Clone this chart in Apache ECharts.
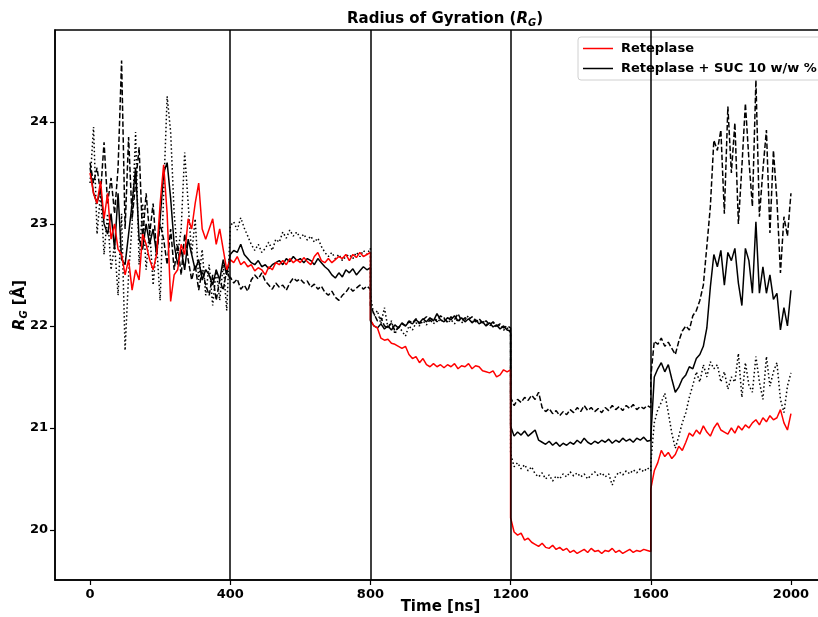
<!DOCTYPE html>
<html>
<head>
<meta charset="utf-8">
<script src="https://cdn.jsdelivr.net/npm/echarts@6/dist/echarts.min.js"></script>
<style>html,body{margin:0;padding:0;background:#fff}#c{width:818px;height:617px}</style>
</head>
<body>
<div id="c"></div>
<script>
// time grid: each trajectory segment is 400 ns, sampled every 10 ns
const segStarts = [0, 400, 800, 1200, 1600];
const step = 10;
const boundaries = [400, 800, 1200, 1600];
const xTicks = [0, 400, 800, 1200, 1600, 2000];
const yTicks = [20, 21, 22, 23, 24];

// Reteplase (red)
const reteplase = [
 [23.50,23.30,23.20,23.42,23.05,23.30,22.85,23.00,22.75,22.70,22.50,22.65,22.35,22.55,22.45,22.90,22.80,22.65,22.55,22.70,23.20,23.58,23.10,22.24,22.50,22.55,22.80,22.70,23.05,22.95,23.20,23.40,22.95,22.85,22.95,23.05,22.80,22.95,22.75,22.55,22.65],
 [22.66,22.62,22.68,22.60,22.63,22.58,22.60,22.54,22.57,22.55,22.50,22.58,22.55,22.62,22.60,22.64,22.60,22.66,22.62,22.65,22.62,22.67,22.63,22.60,22.68,22.72,22.64,22.62,22.66,22.62,22.65,22.68,22.66,22.70,22.64,22.70,22.67,22.72,22.68,22.70,22.72],
 [22.06,22.00,21.98,21.88,21.86,21.87,21.83,21.82,21.80,21.78,21.80,21.72,21.68,21.70,21.64,21.68,21.62,21.60,21.63,21.60,21.62,21.59,21.62,21.60,21.63,21.58,21.61,21.60,21.63,21.58,21.61,21.60,21.56,21.55,21.54,21.56,21.50,21.52,21.57,21.55,21.57],
 [20.12,19.98,19.95,19.97,19.90,19.92,19.88,19.86,19.84,19.87,19.83,19.82,19.85,19.81,19.83,19.80,19.82,19.78,19.80,19.77,19.79,19.81,19.78,19.82,19.79,19.80,19.77,19.80,19.79,19.82,19.78,19.80,19.77,19.79,19.81,19.78,19.80,19.79,19.81,19.80,19.79],
 [20.40,20.58,20.66,20.78,20.72,20.76,20.70,20.74,20.82,20.78,20.86,20.95,20.92,20.98,20.94,21.02,20.96,20.92,21.00,21.05,20.98,20.96,20.94,21.00,20.95,21.02,20.98,21.03,21.00,21.05,21.08,21.03,21.10,21.06,21.12,21.08,21.10,21.18,21.05,20.98,21.14]
];

// Reteplase + SUC 10 w/w % (solid)
const sucA = [
 [23.55,23.30,23.20,23.35,23.00,22.90,23.10,22.75,23.30,22.65,22.60,22.90,23.20,23.55,22.85,22.75,23.00,22.80,22.95,22.70,23.05,23.50,23.60,23.25,22.80,22.60,22.75,22.55,22.85,22.70,22.55,22.65,22.45,22.55,22.50,22.40,22.55,22.45,22.65,22.50,22.70],
 [22.70,22.74,22.72,22.80,22.70,22.66,22.62,22.60,22.64,22.58,22.60,22.56,22.60,22.62,22.64,22.60,22.66,22.63,22.68,22.64,22.66,22.62,22.66,22.64,22.60,22.66,22.62,22.58,22.55,22.50,22.47,22.52,22.48,22.55,22.52,22.56,22.50,22.54,22.58,22.55,22.57],
 [22.05,22.00,21.98,22.02,21.97,22.00,21.96,22.01,21.98,22.03,22.00,22.04,22.02,22.06,22.03,22.07,22.04,22.08,22.05,22.12,22.06,22.04,22.08,22.06,22.10,22.05,22.08,22.04,22.07,22.03,22.06,22.02,22.04,22.00,22.03,21.99,22.01,21.97,22.00,21.96,21.95],
 [21.02,20.92,20.96,20.93,20.97,20.92,20.95,20.98,20.88,20.86,20.84,20.87,20.83,20.86,20.82,20.85,20.83,20.86,20.84,20.88,20.85,20.90,20.86,20.84,20.87,20.85,20.88,20.86,20.89,20.85,20.88,20.86,20.90,20.87,20.89,20.86,20.90,20.88,20.91,20.87,20.88],
 [20.90,21.50,21.58,21.64,21.55,21.62,21.48,21.35,21.40,21.48,21.52,21.60,21.58,21.68,21.72,21.80,21.98,22.38,22.70,22.58,22.74,22.40,22.72,22.64,22.76,22.42,22.20,22.76,22.64,22.32,23.02,22.32,22.58,22.32,22.50,22.26,22.32,21.96,22.18,22.00,22.35]
];

// replica (dashed)
const sucB = [
 [23.60,23.40,23.55,23.30,23.80,23.20,23.45,23.10,23.55,24.60,22.95,23.85,23.05,23.40,23.75,22.85,23.30,22.90,23.20,22.70,23.00,22.85,22.60,22.95,22.55,22.80,22.50,22.90,22.65,22.45,22.60,22.35,22.55,22.40,22.30,22.50,22.25,22.45,22.35,22.55,22.45],
 [22.48,22.42,22.46,22.36,22.40,22.34,22.45,22.50,22.46,22.52,22.44,22.40,22.36,22.42,22.38,22.40,22.35,22.42,22.47,22.44,22.46,22.42,22.44,22.38,22.41,22.36,22.39,22.33,22.30,22.34,22.28,22.25,22.30,22.33,22.38,22.34,22.37,22.40,22.36,22.39,22.36],
 [22.20,22.12,22.05,22.08,22.00,21.98,22.03,21.95,21.98,22.02,22.00,22.05,22.03,22.07,22.02,22.06,22.09,22.05,22.08,22.04,22.10,22.07,22.04,22.09,22.06,22.12,22.05,22.08,22.06,22.09,22.04,22.07,22.03,22.05,22.01,22.04,22.00,22.02,21.98,22.00,21.98],
 [21.30,21.22,21.28,21.25,21.30,21.27,21.32,21.28,21.35,21.20,21.16,21.19,21.14,21.17,21.12,21.16,21.13,21.18,21.15,21.20,21.16,21.22,21.17,21.20,21.16,21.19,21.15,21.20,21.17,21.22,21.18,21.21,21.17,21.22,21.19,21.23,21.18,21.21,21.19,21.22,21.20],
 [21.50,21.85,21.82,21.88,21.80,21.84,21.78,21.72,21.85,21.95,22.00,21.96,22.10,22.15,22.25,22.40,22.78,23.17,23.82,23.72,23.92,23.10,24.15,23.50,23.99,23.00,23.56,24.18,23.63,23.17,24.41,23.07,23.53,23.92,22.91,23.72,23.23,22.52,23.07,22.88,23.30]
];

// replica (dotted)
const sucC = [
 [23.40,23.95,22.90,23.30,22.70,23.10,22.55,22.80,22.30,23.10,21.76,22.50,23.00,23.90,22.60,23.20,22.55,22.95,22.40,22.80,22.25,23.30,24.25,23.90,23.10,22.70,22.95,23.70,23.20,22.70,23.05,22.45,22.75,22.30,22.60,22.20,22.55,22.25,22.60,22.15,22.95],
 [22.98,23.02,22.94,23.06,22.96,22.88,22.80,22.74,22.80,22.72,22.76,22.82,22.74,22.85,22.82,22.92,22.86,22.94,22.88,22.92,22.86,22.90,22.84,22.88,22.82,22.86,22.78,22.72,22.68,22.72,22.66,22.70,22.64,22.68,22.70,22.66,22.72,22.68,22.74,22.70,22.76],
 [22.30,22.10,22.15,22.02,22.18,21.98,22.05,21.92,22.00,21.95,21.90,22.00,21.96,22.03,22.00,22.05,22.01,22.06,22.02,22.07,22.04,22.08,22.03,22.06,22.02,22.07,22.03,22.06,22.10,22.04,22.07,22.03,22.05,22.02,22.00,22.03,21.99,22.01,21.96,21.98,21.93],
 [20.75,20.62,20.66,20.60,20.64,20.58,20.62,20.55,20.52,20.56,20.50,20.54,20.48,20.53,20.50,20.55,20.52,20.57,20.53,20.56,20.52,20.55,20.50,20.54,20.57,20.53,20.56,20.52,20.55,20.44,20.53,20.57,20.54,20.58,20.55,20.59,20.56,20.60,20.57,20.61,20.58],
 [20.65,21.05,21.18,21.25,21.34,21.15,20.95,20.80,20.92,21.05,21.15,21.30,21.42,21.55,21.45,21.62,21.50,21.65,21.58,21.62,21.45,21.55,21.38,21.50,21.45,21.73,21.30,21.64,21.42,21.35,21.70,21.45,21.28,21.70,21.41,21.55,21.64,21.28,21.15,21.41,21.54]
];

function build(segs) {
  const pts = [];
  segs.forEach((seg, k) => seg.forEach((v, j) => pts.push([segStarts[k] + j * step, v])));
  return pts;
}

const FONT = 'DejaVu Sans';
const chart = echarts.init(document.getElementById('c'), null, {renderer: 'canvas'});
const lineSeries = (name, data, color, type) => ({
  name, type: 'line', data: build(data), symbol: 'none', showSymbol: false,
  lineStyle: {color, width: 1.5, type, cap: 'butt'}, itemStyle: {color},
  animation: false, silent: true
});
const subRich = {
  i: {fontFamily: FONT, fontWeight: 'bold', fontStyle: 'italic', fontSize: 15, color: '#000'},
  s: {fontFamily: FONT, fontWeight: 'bold', fontStyle: 'italic', fontSize: 10, color: '#000', verticalAlign: 'bottom', padding: [7, 0, 0, 0]}
};

chart.setOption({
  animation: false,
  backgroundColor: '#fff',
  grid: {left: 55, top: 30, right: -8, bottom: 37, outerBoundsMode: 'none', containLabel: false,
         show: true, borderColor: '#000', borderWidth: 1.5, backgroundColor: 'transparent'},
  title: {
    text: 'Radius of Gyration ({i|R}{s|G})',
    left: 440, top: 6, textAlign: 'center',
    textStyle: {fontFamily: FONT, fontWeight: 'bold', fontSize: 15, color: '#000', rich: subRich}
  },
  legend: {
    data: [
      {name: 'Reteplase', icon: 'rect'},
      {name: 'Reteplase + SUC 10 w/w %', icon: 'rect'}
    ],
    orient: 'vertical', left: 578, top: 37,
    itemWidth: 30, itemHeight: 1.5, itemGap: 7,
    padding: [5, 6, 5, 5],
    backgroundColor: '#fff', borderColor: '#d0d0d0', borderWidth: 1, borderRadius: 3,
    textStyle: {fontFamily: FONT, fontWeight: 'bold', fontSize: 13, color: '#000', padding: [0, 0, 0, 3]}
  },
  xAxis: {
    type: 'value', min: -100, max: 2100,
    name: 'Time [ns]', nameLocation: 'middle', nameGap: 20, nameMoveOverlap: false,
    nameTextStyle: {fontFamily: FONT, fontWeight: 'bold', fontSize: 15, color: '#000'},
    axisLine: {show: true, onZero: false, lineStyle: {color: '#000', width: 1.5}},
    axisTick: {show: true, length: 5, lineStyle: {color: '#000', width: 1.2}, customValues: xTicks},
    axisLabel: {fontFamily: FONT, fontWeight: 'bold', fontSize: 13, color: '#000', margin: 8,
                customValues: xTicks, formatter: v => String(v)},
    splitLine: {show: false}
  },
  yAxis: {
    type: 'value', min: 19.51, max: 24.9,
    name: '{i|R}{s|G} [Å]', nameLocation: 'middle', nameGap: 26, nameRotate: 90, nameMoveOverlap: false,
    nameTextStyle: {fontFamily: FONT, fontWeight: 'bold', fontSize: 15, color: '#000', rich: subRich},
    axisLine: {show: true, onZero: false, lineStyle: {color: '#000', width: 1.5}},
    axisTick: {show: true, length: 5, lineStyle: {color: '#000', width: 1.2}, customValues: yTicks},
    axisLabel: {fontFamily: FONT, fontWeight: 'bold', fontSize: 13, color: '#000', margin: 7,
                customValues: yTicks, formatter: v => String(v)},
    splitLine: {show: false}
  },
  series: [
    lineSeries('SUC replica 3', sucC, '#000', [1.5, 2.5]),
    lineSeries('SUC replica 2', sucB, '#000', [5.5, 2.4]),
    lineSeries('Reteplase + SUC 10 w/w %', sucA, '#000', 'solid'),
    Object.assign(lineSeries('Reteplase', reteplase, '#ff0000', 'solid'), {
      markLine: {
        silent: true, symbol: ['none', 'none'], label: {show: false}, animation: false,
        lineStyle: {color: '#000', width: 1.5, type: 'solid'},
        data: boundaries.map(x => ({xAxis: x}))
      }
    })
  ]
});
</script>
</body>
</html>
